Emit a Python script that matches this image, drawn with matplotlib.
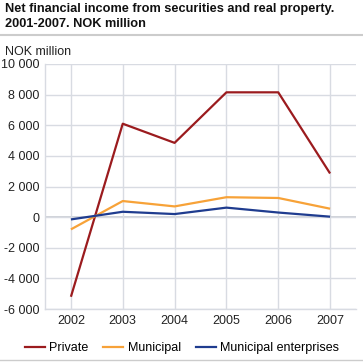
import matplotlib
matplotlib.use("Agg")
import matplotlib.pyplot as plt
from matplotlib.lines import Line2D

years = ["2002", "2003", "2004", "2005", "2006", "2007"]
private = [-5200, 6100, 4850, 8150, 8150, 2850]
municipal = [-800, 1050, 700, 1300, 1250, 550]
municipal_ent = [-150, 350, 200, 620, 300, 30]
series_names = ["Private", "Municipal", "Municipal enterprises"]
yticks = [-6000, -4000, -2000, 0, 2000, 4000, 6000, 8000, 10000]

colors = ["#9b1b1e", "#f7a238", "#1f3c8f"]
grid_c = "#d8dbe2"

plt.rcParams['font.family'] = ['Liberation Sans', 'DejaVu Sans']

fig = plt.figure(figsize=(3.63, 3.63), dpi=100)
ax = fig.add_axes([45/363, 1-309/363, (356-45)/363, (309-64)/363])

x = list(range(len(years)))
for vals, c, n in zip([private, municipal, municipal_ent], colors, series_names):
    ax.plot(x, vals, color=c, lw=1.6, label=n, solid_capstyle='butt', zorder=3)

ax.set_xlim(-0.5, len(years) - 0.5)
ax.set_ylim(-6000, 10000)
ax.set_xticks(x)
ax.set_xticklabels(years)
ax.set_yticks(yticks)
ax.set_yticklabels([f"{v:,}".replace(",", " ") for v in yticks])
ax.tick_params(axis='both', length=0, labelsize=9, colors="#222222")
ax.tick_params(axis='x', pad=4)
ax.tick_params(axis='y', pad=4)
ax.grid(True, color=grid_c, lw=1.0, zorder=0)
ax.axhline(0, color="#cfd2d8", lw=1.4, zorder=1)
for s in ['top', 'right']:
    ax.spines[s].set_visible(False)
for s in ['left', 'bottom']:
    ax.spines[s].set_color(grid_c)
    ax.spines[s].set_linewidth(1.0)

fig.text(5/363, 1-3/363, "Net financial income from securities and real property.\n2001-2007. NOK million",
         fontsize=9.2, fontweight='bold', va='top', ha='left', color="#111111", linespacing=1.3)
fig.add_artist(Line2D([0, 1], [1-35/363, 1-35/363], color="#cccccc", lw=1.5))
fig.text(5/363, 1-52/363, "NOK million", fontsize=9, va='center', ha='left', color="#222222")

handles = [Line2D([], [], color=c, lw=1.6) for c in colors]
fig.legend(handles, series_names, loc='center', bbox_to_anchor=(182/363, 1-348/363), ncol=3,
           frameon=False, fontsize=9.0, handlelength=1.6, handletextpad=0.35, columnspacing=1.2)
fig.add_artist(Line2D([0, 1], [1-360/363, 1-360/363], color="#cccccc", lw=1.0))

fig.savefig("out.png", dpi=100)
